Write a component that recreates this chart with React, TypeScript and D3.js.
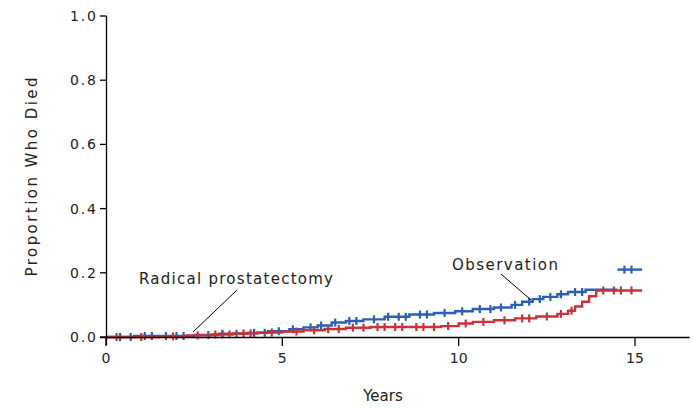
import React from "react";
import * as d3 from "d3";

// Kaplan–Meier cumulative mortality, [years, proportion]
const observationSteps: [number, number][] = [
  [0, 0], [0.8, 0.003], [2.5, 0.006], [3.2, 0.01], [4.0, 0.013], [4.6, 0.018],
  [5.2, 0.024], [5.6, 0.03], [6.0, 0.036], [6.4, 0.045], [6.8, 0.05], [7.3, 0.055],
  [7.9, 0.063], [8.6, 0.07], [9.3, 0.075], [9.9, 0.08], [10.4, 0.087], [11.0, 0.092],
  [11.5, 0.1], [11.8, 0.11], [12.1, 0.118], [12.4, 0.125], [12.8, 0.133], [13.1, 0.14],
  [13.6, 0.147], [14.5, 0.21],
];
const observationEnd = 15.2;
const observationCensored = [
  0.4, 0.7, 1.1, 1.3, 1.7, 2.0, 2.2, 2.9, 3.3, 3.7, 4.2, 4.5, 4.9, 5.3, 5.8, 6.1,
  6.5, 6.9, 7.1, 7.6, 8.0, 8.3, 8.5, 8.9, 9.1, 9.6, 10.1, 10.6, 10.9, 11.2, 11.6,
  12.0, 12.3, 12.6, 12.9, 13.3, 13.5, 14.7, 14.9,
];

const surgerySteps: [number, number][] = [
  [0, 0], [1.5, 0.002], [2.3, 0.005], [3.0, 0.008], [3.6, 0.011], [4.3, 0.014],
  [5.0, 0.017], [5.6, 0.021], [6.2, 0.025], [6.8, 0.029], [7.5, 0.031], [9.5, 0.034],
  [10.0, 0.042], [10.4, 0.047], [11.0, 0.052], [11.6, 0.058], [12.2, 0.064],
  [12.8, 0.072], [13.1, 0.082], [13.3, 0.095], [13.5, 0.11], [13.7, 0.127], [13.9, 0.145],
];
const surgeryEnd = 15.2;
const surgeryCensored = [
  0.3, 1.0, 1.9, 2.6, 3.1, 3.3, 3.5, 3.9, 4.1, 4.7, 5.4, 5.9, 6.3, 6.6, 7.0, 7.3,
  7.7, 7.9, 8.2, 8.4, 8.8, 9.0, 9.3, 9.7, 10.2, 10.7, 11.3, 11.8, 12.0, 12.5, 12.9,
  13.2, 14.1, 14.4, 14.6, 14.9,
];

const xTicks = [0, 5, 10, 15];
const yTicks = [0, 0.2, 0.4, 0.6, 0.8, 1.0];

const BLUE = "#2b5fb4";
const RED = "#c8323a";
const FONT = "'DejaVu Sans', sans-serif";

function valueAt(steps: [number, number][], t: number) {
  let v = 0;
  for (const [s, p] of steps) if (s <= t) v = p;
  return v;
}

// Split a step curve into runs; large jumps start a new run without a riser
function runs(steps: [number, number][], end: number) {
  const pts: [number, number][] = [...steps, [end, steps[steps.length - 1][1]]];
  const out: [number, number][][] = [[pts[0]]];
  for (let i = 1; i < pts.length; i++) {
    const prev = pts[i - 1];
    const cur = pts[i];
    if (cur[1] - prev[1] > 0.05) {
      out[out.length - 1].push([cur[0], prev[1]]);
      out.push([cur]);
    } else {
      out[out.length - 1].push(cur);
    }
  }
  return out;
}

export default function App() {
  const x = d3.scaleLinear().domain([0, 15]).range([106, 635]);
  const y = d3.scaleLinear().domain([0, 1]).range([337, 16]);

  const line = d3
    .line<[number, number]>()
    .x((d) => x(d[0]))
    .y((d) => y(d[1]))
    .curve(d3.curveStepAfter);

  const series = [
    { steps: observationSteps, end: observationEnd, cens: observationCensored, color: BLUE },
    { steps: surgerySteps, end: surgeryEnd, cens: surgeryCensored, color: RED },
  ];

  return (
    <svg width={693} height={408} style={{ position: "absolute", left: 0, top: 0, background: "#fff" }}>
      {series.map((s, i) => (
        <g key={i}>
          {runs(s.steps, s.end).map((r, k) => (
            <path key={k} d={line(r) || ""} fill="none" stroke={s.color} strokeWidth={2.4} />
          ))}
          {s.cens.map((t, j) => {
            const v = valueAt(s.steps, t);
            return (
              <line key={j} x1={x(t)} x2={x(t)} y1={y(v) - 4} y2={y(v) + 4}
                stroke={s.color} strokeWidth={2.2} />
            );
          })}
        </g>
      ))}

      {/* axes */}
      <line x1={106.5} x2={106.5} y1={y(1)} y2={345} stroke="#000" strokeWidth={1.3} />
      <line x1={100} x2={x(16.55)} y1={337.5} y2={337.5} stroke="#000" strokeWidth={1.3} />
      {yTicks.map((v) => (
        <g key={v}>
          <line x1={100} x2={106.5} y1={y(v)} y2={y(v)} stroke="#000" strokeWidth={1.3} />
          <text x={96} y={y(v) + 5} textAnchor="end" fontFamily={FONT} fontSize={14} fill="#222"
            textLength={26} lengthAdjust="spacing">
            {v.toFixed(1)}
          </text>
        </g>
      ))}
      {xTicks.map((v) => (
        <g key={v}>
          <line x1={x(v)} x2={x(v)} y1={337.5} y2={346} stroke="#000" strokeWidth={1.3} />
          <text x={x(v)} y={363} textAnchor="middle" fontFamily={FONT} fontSize={14} fill="#222">
            {v}
          </text>
        </g>
      ))}
      <text x={383} y={401} textAnchor="middle" fontFamily={FONT} fontSize={15} fill="#222">
        Years
      </text>
      <text transform="translate(37,177) rotate(-90)" textAnchor="middle" fontFamily={FONT}
        fontSize={15} fill="#222" textLength={199} lengthAdjust="spacing">
        Proportion Who Died
      </text>

      {/* group labels */}
      <text x={139} y={284} fontFamily={FONT} fontSize={15} fill="#222" textLength={194} lengthAdjust="spacing">
        Radical prostatectomy
      </text>
      <line x1={237} x2={193} y1={290} y2={332} stroke="#000" strokeWidth={1} />
      <text x={452} y={270} fontFamily={FONT} fontSize={15} fill="#222" textLength={106} lengthAdjust="spacing">
        Observation
      </text>
      <line x1={501} x2={531} y1={274} y2={300} stroke="#000" strokeWidth={1} />
    </svg>
  );
}
